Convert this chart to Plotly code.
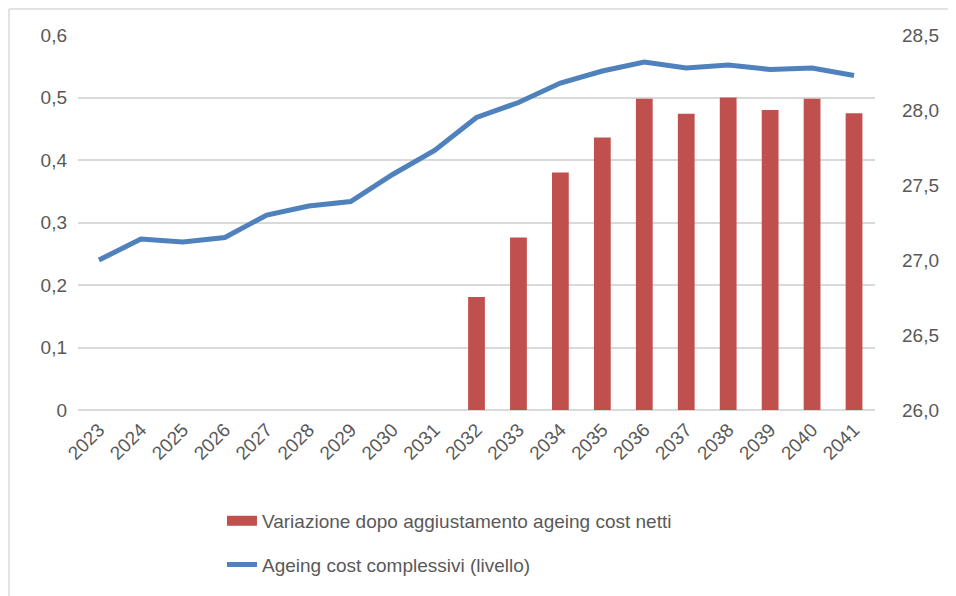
import plotly.graph_objects as go

years = [str(y) for y in range(2023, 2042)]
variazione = [0, 0, 0, 0, 0, 0, 0, 0, 0,
              0.181, 0.276, 0.380, 0.436, 0.498, 0.474, 0.500, 0.480, 0.498, 0.475]
ageing_cost = [27.00, 27.14, 27.12, 27.15, 27.30, 27.36, 27.39, 27.57, 27.73,
               27.95, 28.05, 28.18, 28.26, 28.32, 28.28, 28.30, 28.27, 28.28, 28.23]

bar_name = "Variazione dopo aggiustamento ageing cost netti"
line_name = "Ageing cost complessivi (livello)"
text_col = "#595959"
font_family = "Liberation Sans"

# page body adds an 8px margin, so the figure is 8px smaller
W, H = 948, 588
L, T, PW, PH = 70, 27, 797, 375

fig = go.Figure()
fig.add_trace(go.Bar(
    x=years, y=variazione, name=bar_name,
    marker=dict(color="#C0504D", line=dict(width=0)),
    showlegend=False,
))
# legend swatch for the bars: a wide red block like the Excel legend
fig.add_trace(go.Scatter(
    x=[None], y=[None], mode="lines", name=bar_name,
    line=dict(color="#C0504D", width=16),
    legendgroup="a",
))
fig.add_trace(go.Scatter(
    x=years, y=ageing_cost, yaxis="y2", mode="lines", name=line_name,
    line=dict(color="#4F81BD", width=5),
    legendgroup="b",
))

# chart-area border (only top and left edges are visible in the crop)
bx0, by_top = (1 - L) / PW, (T + PH - 1) / PH
border = dict(color="#D9D9D9", width=1.5)
shapes = [
    dict(type="line", xref="paper", yref="paper", x0=bx0, x1=(W - L) / PW,
         y0=by_top, y1=by_top, line=border, layer="below"),
    dict(type="line", xref="paper", yref="paper", x0=bx0, x1=bx0,
         y0=(T + PH - H) / PH, y1=by_top, line=border, layer="below"),
]

fig.update_layout(
    width=W, height=H,
    margin=dict(l=L, r=W - L - PW, t=T, b=H - T - PH, autoexpand=False),
    plot_bgcolor="white", paper_bgcolor="white",
    separators=",.",
    bargap=0.6,
    font=dict(family=font_family, color=text_col, size=18),
    showlegend=True,
    legend=dict(
        xref="container", yref="container",
        x=0.2257, y=0.160, xanchor="left", yanchor="top",
        orientation="v", tracegroupgap=16,
        font=dict(size=19, color=text_col),
    ),
    xaxis=dict(
        type="category", tickangle=-45, showgrid=False, automargin=False,
        tickfont=dict(size=19), ticks="", showline=False, ticklabelstandoff=4,
    ),
    yaxis=dict(
        range=[0, 0.6], dtick=0.1, showgrid=True, gridcolor="#D9D9D9", gridwidth=1.5,
        zeroline=True, zerolinecolor="#D9D9D9", zerolinewidth=1.5, automargin=False,
        tickfont=dict(size=19), ticks="", ticklabelstandoff=10,
    ),
    yaxis2=dict(
        range=[26, 28.5], dtick=0.5, tickformat=".1f", overlaying="y", side="right",
        showgrid=False, zeroline=False, tickfont=dict(size=19), ticks="",
        ticklabelstandoff=26, automargin=False,
    ),
    shapes=shapes,
)

fig.write_html("out.html")
